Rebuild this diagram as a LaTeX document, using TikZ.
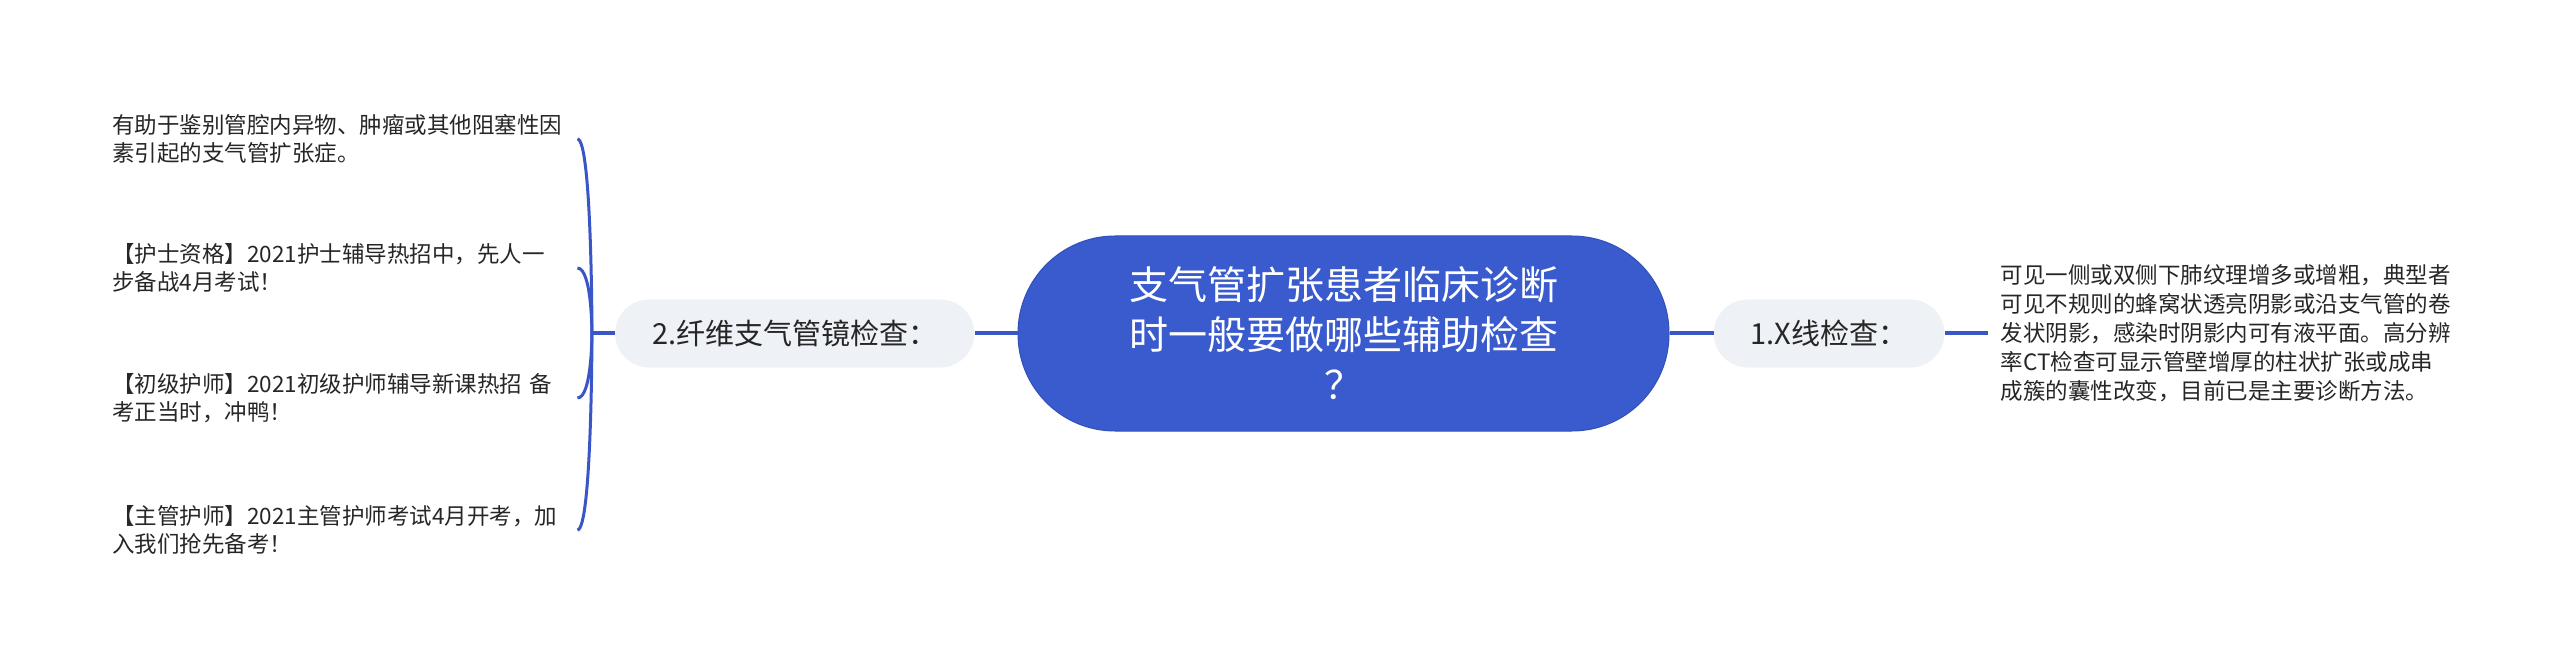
\documentclass[tikz,border=0pt]{standalone}
\usepackage{fontspec}
\setmainfont{Noto Sans CJK SC}
\usetikzlibrary{positioning}

\definecolor{rootblue}{HTML}{3A5BCD}
\definecolor{rootedge}{HTML}{3150B8}
\definecolor{linkblue}{HTML}{3A56C6}
\definecolor{topicgrey}{HTML}{EEF1F5}
\definecolor{leafink}{HTML}{262626}

\tikzset{
  root/.style={fill=rootblue, draw=rootedge, line width=1pt, text=white,
    rounded corners=97pt, minimum width=651pt, minimum height=195pt,
    inner sep=0pt, align=center, font=\fontsize{39pt}{50pt}\selectfont},
  topic/.style={fill=topicgrey, rounded corners=34pt, minimum height=68pt,
    inner xsep=37pt, inner ysep=0pt, text=leafink,
    font=\fontsize{29pt}{35pt}\selectfont},
  leaf/.style={text width=460pt, align=left, inner xsep=5pt, inner ysep=0pt,
    text=leafink, font=\fontsize{22.5pt}{28pt}\selectfont},
  link/.style={draw=linkblue, line width=4pt},
  brace/.style={draw=linkblue, line width=3pt},
}

\begin{document}
\begin{tikzpicture}[x=1pt,y=-1pt]
  \useasboundingbox (0,0) rectangle (2560,668);

  \node[root] (root) at (1343.5,333.5) {支气管扩张患者临床诊断\\时一般要做哪些辅助检查\\？};
  \node[topic] (fiber) [left=43pt of root] {2.纤维支气管镜检查：};
  \node[topic] (xray) [right=44pt of root] {1.X线检查：};

  % right side
  \node[leaf, text width=455pt, inner xsep=13pt,
    font=\fontsize{22.5pt}{29pt}\selectfont] (xnote) [right=43pt of xray]
    {可见一侧或双侧下肺纹理增多或增粗，典型者\\可见不规则的蜂窝状透亮阴影或沿支气管的卷\\发状阴影，感染时阴影内可有液平面。高分辨\\率CT检查可显示管壁增厚的柱状扩张或成串\\成簇的囊性改变，目前已是主要诊断方法。};

  % left side
  \coordinate[left=23pt of fiber] (fork);
  \node[leaf, anchor=west] (f1) at (107,139) {有助于鉴别管腔内异物、肿瘤或其他阻塞性因\\素引起的支气管扩张症。};
  \node[leaf, anchor=west] (f2) at (107,268) {【护士资格】2021护士辅导热招中，先人一\\步备战4月考试！};
  \node[leaf, anchor=west] (f3) at (107,398) {【初级护师】2021初级护师辅导新课热招 备\\考正当时，冲鸭！};
  \node[leaf, anchor=west] (f4) at (107,530) {【主管护师】2021主管护师考试4月开考，加\\入我们抢先备考！};

  \path
    (root) edge[link] (fiber)
    (root) edge[link] (xray)
    (xray) edge[link] (xnote)
    (fiber) edge[link] (fork);

  \foreach \n in {f1,f2,f3,f4}
    \draw[brace] (fork) .. controls (fork) and (fork |- \n.east) .. (\n.east);
\end{tikzpicture}
\end{document}
